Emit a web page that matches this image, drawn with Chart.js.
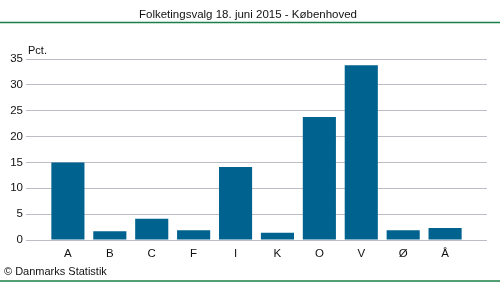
<!DOCTYPE html>
<html>
<head>
<meta charset="utf-8">
<script src="https://cdn.jsdelivr.net/npm/chart.js@4"></script>
<style>
  html, body { margin: 0; padding: 0; background: #fff; }
  #wrap { width: 500px; height: 282px; }
</style>
</head>
<body>
<div id="wrap"><canvas id="ChartValg" width="500" height="282"></canvas></div>
<script>
var partier = ["A", "B", "C", "F", "I", "K", "O", "V", "Ø", "Å"];
var procent = [15.0, 1.7, 4.1, 1.9, 14.1, 1.4, 23.8, 33.8, 1.9, 2.3];
var yTicks = [0, 5, 10, 15, 20, 25, 30, 35];

var titel = "Folketingsvalg 18. juni 2015 - Københoved";
var kilde = "© Danmarks Statistik";
var enhed = "Pct.";

var FONT = "'Liberation Sans', Arial, sans-serif";

// title, green rules, unit label and source line
var rammePlugin = {
    id: "ramme",
    afterDraw: function (chart) {
        var ctx = chart.ctx;
        ctx.save();
        ctx.strokeStyle = "#1b7f45";
        ctx.lineWidth = 1.5;
        ctx.beginPath();
        ctx.moveTo(0, 22.5);
        ctx.lineTo(500, 22.5);
        ctx.moveTo(0, 281);
        ctx.lineTo(500, 281);
        ctx.stroke();

        ctx.fillStyle = "#111";
        ctx.font = "11.5px " + FONT;
        ctx.textBaseline = "alphabetic";
        ctx.textAlign = "center";
        ctx.fillText(titel, 248, 18);

        ctx.textAlign = "left";
        ctx.font = "11px " + FONT;
        ctx.fillText(enhed, 28, 54);
        ctx.fillText(kilde, 4, 275);
        ctx.restore();
    }
};

new Chart(document.getElementById("ChartValg"), {
    type: "bar",
    data: {
        datasets: [{
            label: "Pct.",
            data: procent.map(function (v, i) { return { x: i, y: v }; }),
            backgroundColor: "#00628f",
            borderWidth: 0,
            barPercentage: 0.79,
            categoryPercentage: 1
        }]
    },
    plugins: [rammePlugin],
    options: {
        responsive: false,
        animation: false,
        layout: { padding: { top: 59, right: 13, bottom: 0, left: 0 } },
        plugins: {
            legend: { display: false },
            title: { display: false },
            tooltip: { enabled: false }
        },
        scales: {
            x: {
                type: "linear",
                offset: false,
                min: -1,
                max: partier.length,
                grid: { display: false, drawTicks: false },
                border: { display: false },
                afterFit: function (scale) { scale.height = 42; },
                afterBuildTicks: function (scale) {
                    scale.ticks = partier.map(function (p, i) { return { value: i }; });
                },
                ticks: {
                    autoSkip: false,
                    maxRotation: 0,
                    padding: 7,
                    color: "#111",
                    font: { family: FONT, size: 11.5 },
                    callback: function (v) { return partier[v] !== undefined ? partier[v] : ""; }
                }
            },
            y: {
                min: 0,
                max: 35,
                afterFit: function (scale) { scale.width = 26; },
                afterBuildTicks: function (scale) {
                    scale.ticks = yTicks.map(function (t) { return { value: t }; });
                },
                grid: { color: "#bdbdc5", lineWidth: 1, drawTicks: false },
                border: { display: false },
                ticks: {
                    padding: 3,
                    color: "#111",
                    font: { family: FONT, size: 11.5 }
                }
            }
        }
    }
});
</script>
</body>
</html>
